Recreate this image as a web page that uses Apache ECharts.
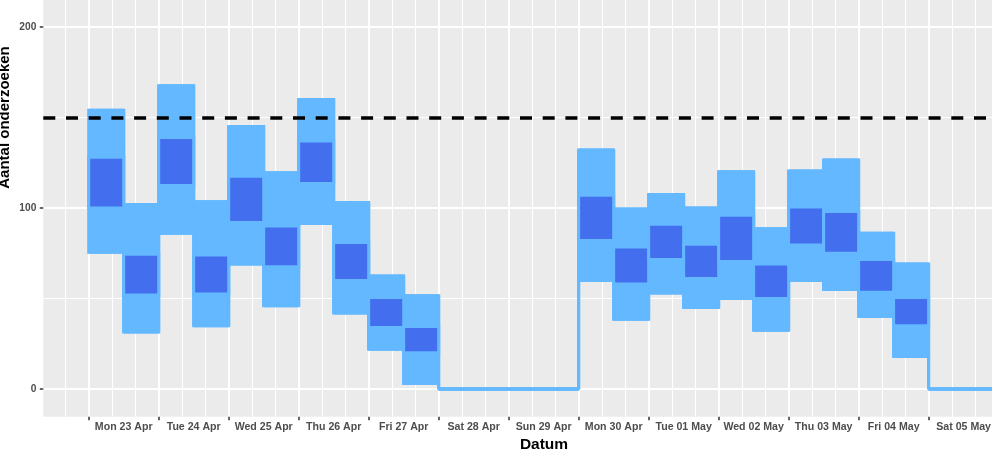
<!DOCTYPE html>
<html>
<head>
<meta charset="utf-8">
<script src="https://cdn.jsdelivr.net/npm/echarts@6/dist/echarts.min.js"></script>
<style>
  html, body { margin: 0; padding: 0; background: #fff; }
  #chart { width: 992px; height: 454px; }
</style>
</head>
<body>
<div id="chart"></div>
<script>
// half-day slots, hours from Mon 23 Apr 00:00
const slotHours = [0, 12, 24, 36, 48, 60, 72, 84, 96, 108, 120, 132, 144, 156,
  168, 180, 192, 204, 216, 228, 240, 252, 264, 276, 288, 300, 312, 324, 336];

// outer band (light) and inner band (dark), one value per slot
const lightHi = [154, 102, 167.5, 103.5, 145, 119.5, 160, 103, 62.5, 51.5, 0, 0, 0, 0,
  132, 99.5, 107.5, 100, 120, 88.5, 120.5, 126.5, 86, 69, 0, 0, 0, 0, 0];
const lightLo = [75.5, 31.5, 86, 35, 69, 46, 91.5, 42, 22, 3, 0, 0, 0, 0,
  60, 38.5, 53, 45, 50, 32.5, 60, 55, 40, 18, 0, 0, 0, 0, 0];
const darkHi = [128, 74.5, 139, 74, 117.5, 90, 137, 81, 50.5, 34.5, 0, 0, 0, 0,
  107, 78.5, 91, 80, 96, 69, 100.5, 98, 71.5, 50.5, 0, 0, 0, 0, 0];
const darkLo = [100, 52, 112.5, 52.5, 92, 67.5, 113.5, 60, 34, 20, 0, 0, 0, 0,
  82, 58, 71.5, 61, 70.5, 50, 79.5, 75, 53.5, 35, 0, 0, 0, 0, 0];

const dayLabels = ['Mon 23 Apr', 'Tue 24 Apr', 'Wed 25 Apr', 'Thu 26 Apr', 'Fri 27 Apr',
  'Sat 28 Apr', 'Sun 29 Apr', 'Mon 30 Apr', 'Tue 01 May', 'Wed 02 May', 'Thu 03 May',
  'Fri 04 May', 'Sat 05 May'];
const labelHours = [12, 36, 60, 84, 108, 132, 156, 180, 204, 228, 252, 276, 300];
const tickHours = [0, 24, 48, 72, 96, 120, 144, 168, 192, 216, 240, 264, 288, 312];
const yTicks = [0, 100, 200, 300];
const threshold = 150;

const LIGHT = '#63B8FF';
const DARK = '#436EEE';
const FONT = '"Liberation Sans", Arial, sans-serif';

// [start, end, lo, hi] per slot
const rects = (lo, hi) => slotHours.slice(0, -1).map((h, i) => [h, slotHours[i + 1], lo[i], hi[i]]);
const pairs = (ys) => slotHours.map((h, i) => [h, ys[i]]);

function bandRenderer(fill, stroke) {
  return function (params, api) {
    const p0 = api.coord([api.value(0), api.value(3)]);
    const p1 = api.coord([api.value(1), api.value(2)]);
    return {
      type: 'rect',
      shape: { x: p0[0], y: p0[1], width: p1[0] - p0[0], height: p1[1] - p0[1] },
      style: { fill: fill, stroke: stroke, lineWidth: 3 }
    };
  };
}

const chart = echarts.init(document.getElementById('chart'));

const option = {
  animation: false,
  grid: {
    left: 43.3, right: -52.7, top: -181.7, bottom: 37.3,
    outerBoundsMode: 'none', containLabel: false,
    show: true, backgroundColor: '#EBEBEB', borderWidth: 0
  },
  xAxis: {
    type: 'value',
    min: -15.57, max: 327.8,
    minInterval: 24, maxInterval: 24,
    name: 'Datum', nameLocation: 'middle', nameGap: 20, nameMoveOverlap: false,
    nameTextStyle: { color: '#000', fontWeight: 'bold', fontSize: 15.5, fontFamily: FONT },
    axisLine: { show: false, onZero: false },
    axisTick: { show: true, length: 3.5, customValues: tickHours,
      lineStyle: { color: '#333', width: 1.5 } },
    axisLabel: {
      customValues: labelHours,
      margin: 5, color: '#4D4D4D', fontWeight: 'bold', fontSize: 10.6, fontFamily: FONT,
      formatter: (v) => {
        const i = labelHours.indexOf(v);
        return i >= 0 ? dayLabels[i] : '';
      }
    },
    splitLine: { show: true, lineStyle: { color: '#fff', width: 2 } },
    minorTick: { show: false, splitNumber: 3 },
    minorSplitLine: { show: true, lineStyle: { color: '#fff', width: 1 } }
  },
  yAxis: {
    type: 'value',
    min: -15.3, max: 315.3,
    minInterval: 100, maxInterval: 100,
    name: 'Aantal onderzoeken', nameLocation: 'middle', nameGap: 31, nameMoveOverlap: false,
    nameTextStyle: { color: '#000', fontWeight: 'bold', fontSize: 15, fontFamily: FONT },
    axisLine: { show: false, onZero: false },
    axisTick: { show: true, length: 3.5, customValues: yTicks,
      lineStyle: { color: '#333', width: 1.5 } },
    axisLabel: {
      customValues: yTicks,
      margin: 7, color: '#4D4D4D', fontWeight: 'bold', fontSize: 10.2, fontFamily: FONT,
      formatter: (v) => (v % 100 === 0 ? String(v) : '')
    },
    splitLine: { show: true, lineStyle: { color: '#fff', width: 2 } },
    minorTick: { show: false, splitNumber: 2 },
    minorSplitLine: { show: true, lineStyle: { color: '#fff', width: 1 } }
  },
  series: [
    {
      name: 'lightBand', type: 'custom', clip: true, z: 2,
      renderItem: bandRenderer(LIGHT, LIGHT),
      encode: { x: [0, 1], y: [2, 3] },
      data: rects(lightLo, lightHi)
    },
    {
      name: 'lightLoEdge', type: 'line', step: 'end', symbol: 'none', z: 2,
      data: pairs(lightLo), lineStyle: { color: LIGHT, width: 3 }
    },
    {
      name: 'lightHiEdge', type: 'line', step: 'end', symbol: 'none', z: 2,
      data: pairs(lightHi), lineStyle: { color: LIGHT, width: 3 }
    },
    {
      name: 'darkBand', type: 'custom', clip: true, z: 3,
      renderItem: bandRenderer(DARK, LIGHT),
      encode: { x: [0, 1], y: [2, 3] },
      data: rects(darkLo, darkHi)
    },
    {
      name: 'threshold', type: 'line', symbol: 'none', data: [], z: 5,
      markLine: {
        silent: true, symbol: 'none', label: { show: false },
        lineStyle: { color: '#000', width: 3.5, type: [12, 10.7] },
        data: [{ yAxis: threshold }]
      }
    }
  ]
};

chart.setOption(option);
</script>
</body>
</html>
